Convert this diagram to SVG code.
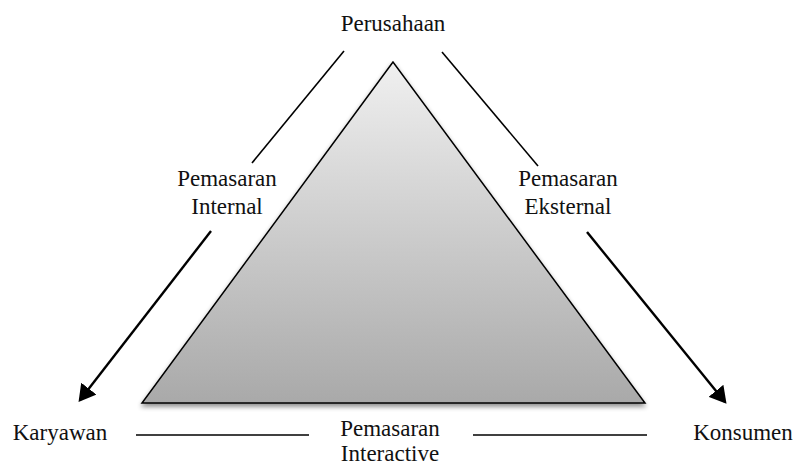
<svg xmlns="http://www.w3.org/2000/svg" width="797" height="466" viewBox="0 0 797 466">
<style>
text{font-family:"Liberation Serif","Times New Roman",serif;font-size:23px;fill:#111;text-anchor:middle}
.ln{stroke:#000;stroke-width:1.6;fill:none}
.ar{stroke:#000;stroke-width:2.4;fill:none}
</style>
<defs>
<linearGradient id="g" x1="0" y1="0" x2="0" y2="1">
<stop offset="0" stop-color="#f0f0f0"/>
<stop offset="1" stop-color="#a9a9a9"/>
</linearGradient>
<filter id="sh" x="-10%" y="-10%" width="120%" height="130%">
<feGaussianBlur in="SourceAlpha" stdDeviation="2.5"/>
<feOffset dx="0" dy="3" result="b"/>
<feComponentTransfer><feFuncA type="linear" slope="0.45"/></feComponentTransfer>
<feMerge><feMergeNode/><feMergeNode in="SourceGraphic"/></feMerge>
</filter>
<marker id="ah" markerWidth="8" markerHeight="8" refX="6" refY="4" orient="auto" markerUnits="strokeWidth">
<path d="M0,0 L7,4 L0,8 Z" fill="#000"/>
</marker>
</defs>
<g id="triangle">
<polygon points="393,62 142,403 645,403" fill="url(#g)" stroke="#000" stroke-width="1.5" filter="url(#sh)"/>
</g>
<g id="connectors">
<line class="ln" x1="344" y1="51" x2="252" y2="163"/>
<line class="ar" x1="211" y1="231" x2="80" y2="400" marker-end="url(#ah)"/>
<line class="ln" x1="442" y1="52" x2="538" y2="166"/>
<line class="ar" x1="587" y1="232" x2="725" y2="402" marker-end="url(#ah)"/>
<line class="ln" x1="136" y1="435" x2="309" y2="435"/>
<line class="ln" x1="473" y1="435" x2="647" y2="435"/>
</g>
<g id="perusahaan"><text x="393" y="31">Perusahaan</text></g>
<g id="karyawan"><text x="60" y="440">Karyawan</text></g>
<g id="konsumen"><text x="743" y="440">Konsumen</text></g>
<g id="pemasaran-internal"><text x="227" y="186">Pemasaran</text><text x="227" y="214">Internal</text></g>
<g id="pemasaran-eksternal"><text x="568" y="186">Pemasaran</text><text x="568" y="214">Eksternal</text></g>
<g id="pemasaran-interactive"><text x="390" y="436">Pemasaran</text><text x="390" y="461">Interactive</text></g>
</svg>
